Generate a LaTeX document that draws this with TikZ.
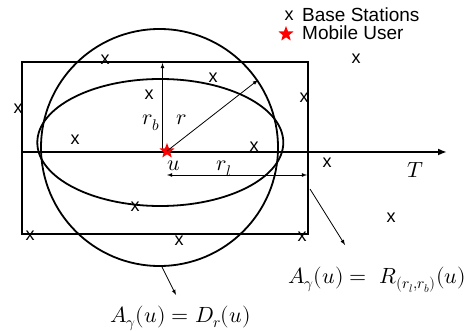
\documentclass[tikz,border=0pt]{standalone}
\usepackage{fontspec}
\usepackage{unicode-math}
\setmathfont{Latin Modern Math}
\setsansfont{Liberation Sans}
\usetikzlibrary{shapes.geometric,arrows.meta}

\begin{document}
\begin{tikzpicture}[
  x=1pt, y=-1pt,
  every node/.style={inner sep=0pt},
  bold line/.style={line width=1.8pt},
  thin arrow/.style={line width=0.8pt, -latex},
  bs/.style={font=\sffamily\fontsize{18}{18}\selectfont},
  legend/.style={font=\sffamily\fontsize{19}{19}\selectfont, anchor=base west},
  lbl/.style={font=\fontsize{22}{26}\selectfont, anchor=base west},
  user star/.style={star, star points=5, star point ratio=2.4, fill=red, minimum size=16pt}
]
\useasboundingbox (0,0) rectangle (471,331);

% Gebied: rechthoek, cirkel en ellips
\draw[bold line] (22,62) rectangle (308,234);
\draw[bold line] (159.5,147.5) circle (118.5);
\draw[bold line] (160.3,142.5) ellipse (123 and 63.5);

% Tijdas
\coordinate (axis start) at (21,152);
\coordinate (axis end) at (447,152);
\draw[bold line, -{Latex[length=9pt,width=7pt]}] (axis start) -- (axis end);
\node[lbl] (T) at (407,178) {$T$};

% Gebruiker en stralen
\coordinate (rb foot) at (162.5,152);
\coordinate (rb top) at (162.5,63);
\coordinate (r end) at (258,80);
\coordinate (rl left) at (167,175);
\coordinate (rl right) at (307,175);
\draw[thin arrow] (rb foot) -- (rb top);
\node[user star] (user) at (167,151) {};
\draw[thin arrow] (user.center) -- (r end);
\draw[line width=0.8pt, latex-latex] (rl left) -- (rl right);
\node[lbl] (rb) at (142,125) {$r_b$};
\node[lbl] (r) at (176,125) {$r$};
\node[lbl] (u) at (167,171) {$u$};
\node[lbl] (rl) at (216,171) {$r_l$};

% Basisstations
\foreach \bx/\by [count=\i] in {105/60, 213/78, 149/95, 18/109, 304/98, 75/140,
    254/147, 327/163, 356/59, 391/218, 135/207, 30/236, 179/241, 302/237}
  \node[bs] (bs\i) at (\bx,\by) {x};

% Legenda
\node[bs] (key bs) at (289,16) {x};
\node[legend] (key bs text) at (302,21.5) {Base Stations};
\node[user star] (key user) at (286,34) {};
\node[legend] (key user text) at (302,40) {Mobile User};

% Verwijzingen
\coordinate (rect ptr) at (310,189);
\coordinate (rect tip) at (345,245);
\coordinate (disc ptr) at (162,267);
\coordinate (disc tip) at (176,295);
\draw[thin arrow] (rect ptr) -- (rect tip);
\draw[thin arrow] (disc ptr) -- (disc tip);
\node[lbl] (rect eq) at (288,283) {$A_\gamma(u) =\ R_{(r_l,r_b)}(u)$};
\node[lbl] (disc eq) at (110,322) {$A_\gamma(u) = D_r(u)$};

\end{tikzpicture}
\end{document}
